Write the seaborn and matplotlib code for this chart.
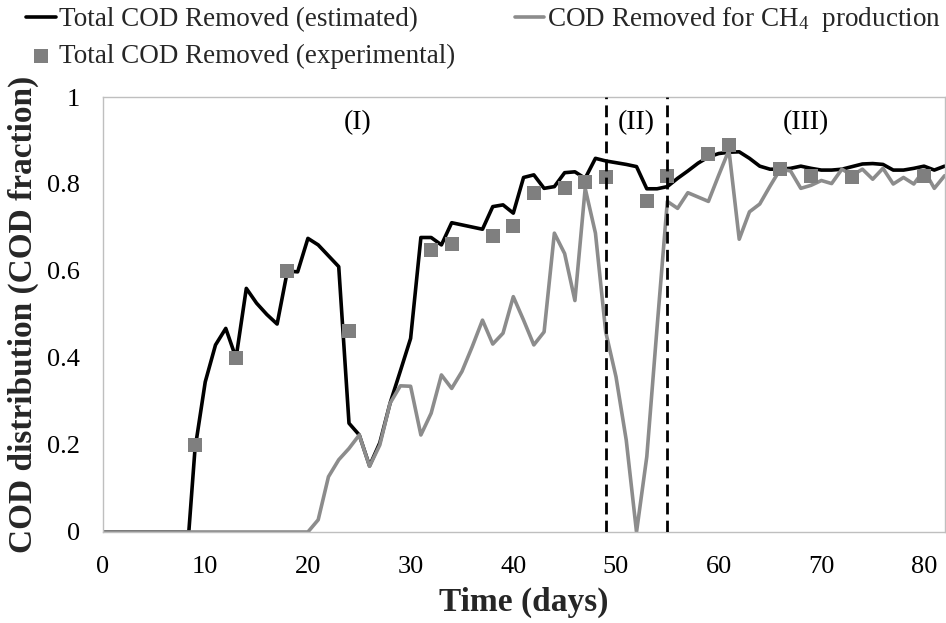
import matplotlib
matplotlib.use("Agg")
import matplotlib.pyplot as plt
import seaborn as sns
import pandas as pd

# ---------------- data ----------------
est_days = [0, 8.4, 9, 10, 11, 12, 13, 14, 15, 16, 17, 18, 19, 20, 21, 22, 23, 24, 25, 26,
            27, 28, 29, 30, 31, 32, 33, 34, 35, 36, 37, 38, 39, 40, 41, 42, 43, 44, 45, 46,
            47, 48, 49, 50, 51, 52, 53, 54, 55, 56, 57, 58, 59, 60, 61, 62, 63, 64, 65, 66,
            67, 68, 69, 70, 71, 72, 73, 74, 75, 76, 77, 78, 79, 80, 81, 82]
est_values = [0, 0, 0.19, 0.345, 0.43, 0.468, 0.40, 0.56, 0.526, 0.50, 0.478, 0.60, 0.598, 0.675,
              0.66, 0.635, 0.61, 0.25, 0.223, 0.152, 0.205, 0.296, 0.37, 0.445, 0.677, 0.677,
              0.66, 0.711, 0.706, 0.701, 0.696, 0.748, 0.752, 0.733, 0.815, 0.821, 0.79, 0.794,
              0.826, 0.828, 0.813, 0.859, 0.853, 0.849, 0.845, 0.84, 0.789, 0.789, 0.794, 0.813,
              0.83, 0.848, 0.862, 0.87, 0.873, 0.874, 0.859, 0.841, 0.834, 0.834, 0.836, 0.841,
              0.836, 0.832, 0.832, 0.834, 0.84, 0.846, 0.847, 0.845, 0.832, 0.832, 0.836, 0.841,
              0.832, 0.841]

ch4_days = [0, 20, 21, 22, 23, 24, 25, 26, 27, 28, 29, 30, 31, 32, 33, 34, 35, 36, 37, 38, 39,
            40, 41, 42, 43, 44, 45, 46, 47, 48, 49, 50, 51, 52, 53, 54, 55, 56, 57, 58, 59, 60,
            61, 62, 63, 64, 65, 66, 67, 68, 69, 70, 71, 72, 73, 74, 75, 76, 77, 78, 79, 80, 81, 82]
ch4_values = [0, 0, 0.028, 0.127, 0.166, 0.192, 0.223, 0.151, 0.2, 0.296, 0.336, 0.335, 0.223,
              0.273, 0.361, 0.33, 0.369, 0.426, 0.487, 0.432, 0.457, 0.541, 0.487, 0.43, 0.46,
              0.687, 0.64, 0.532, 0.79, 0.687, 0.46, 0.357, 0.211, 0.0, 0.173, 0.47, 0.76, 0.744,
              0.78, 0.77, 0.76, 0.82, 0.878, 0.673, 0.736, 0.754, 0.795, 0.834, 0.83, 0.79, 0.797,
              0.808, 0.801, 0.834, 0.82, 0.834, 0.811, 0.836, 0.80, 0.815, 0.80, 0.832, 0.79, 0.819]

exp_days = [9, 13, 18, 24, 32, 34, 38, 40, 42, 45, 47, 49, 53, 55, 59, 61, 66, 69, 73, 80]
exp_values = [0.2, 0.4, 0.6, 0.463, 0.648, 0.662, 0.681, 0.703, 0.78, 0.79, 0.804, 0.815, 0.761,
              0.818, 0.868, 0.89, 0.834, 0.818, 0.817, 0.819]

phase_bounds = [49, 55]
phase_labels = ["(I)", "(II)", "(III)"]
phase_label_x = [24.8, 52.0, 68.5]

x_ticks = [0, 10, 20, 30, 40, 50, 60, 70, 80]
y_ticks = [0, 0.2, 0.4, 0.6, 0.8, 1.0]
y_tick_labels = ["0", "0.2", "0.4", "0.6", "0.8", "1"]

lab_est = "Total COD Removed (estimated)"
lab_ch4 = "COD Removed for CH$_4$  production"
lab_exp = "Total COD Removed (experimental)"

# ---------------- style ----------------
sns.set_style("white")
plt.rcParams["font.family"] = ["Liberation Serif", "DejaVu Serif"]
plt.rcParams["mathtext.fontset"] = "custom"
plt.rcParams["mathtext.rm"] = "Liberation Serif"
plt.rcParams["mathtext.it"] = "Liberation Serif:italic"
plt.rcParams["lines.scale_dashes"] = False

df_est = pd.DataFrame({"day": est_days, "value": est_values})
df_ch4 = pd.DataFrame({"day": ch4_days, "value": ch4_values})
df_exp = pd.DataFrame({"day": exp_days, "value": exp_values})

fig = plt.figure(figsize=(9.46, 6.23), dpi=100)
ax = fig.add_axes([0.1084, 0.1461, 0.8901, 0.6982])

black = "#000000"
gray_line = "#8c8c8c"
gray_mark = "#7f7f7f"
frame = "#bfbfbf"

sns.lineplot(data=df_est, x="day", y="value", ax=ax, color=black, linewidth=2.6,
             label=lab_est, estimator=None, sort=False)
sns.lineplot(data=df_ch4, x="day", y="value", ax=ax, color=gray_line, linewidth=2.6,
             label=lab_ch4, estimator=None, sort=False)
sns.scatterplot(data=df_exp, x="day", y="value", ax=ax, color=gray_mark, marker="s",
                s=95, linewidth=0, label=lab_exp, zorder=5)

for xb in phase_bounds:
    ax.axvline(xb, color=black, linewidth=2.0, linestyle=(0, (8.5, 4.5)), zorder=6)

for lx, lt in zip(phase_label_x, phase_labels):
    ax.text(lx, 0.94, lt, ha="center", va="center", fontsize=20, color="#000000")

ax.set_xlim(0, 82)
ax.set_ylim(0, 1)
ax.set_xticks(x_ticks)
ax.set_xticklabels([str(t) for t in x_ticks])
ax.set_yticks(y_ticks)
ax.set_yticklabels(y_tick_labels)

for sp in ax.spines.values():
    sp.set_color(frame)
    sp.set_linewidth(1.0)
    sp.set_visible(True)

ax.tick_params(axis="both", which="major", direction="out", length=6, width=1.0,
               color=frame, labelsize=19, labelcolor="#000000")
ax.tick_params(axis="x", pad=11)
ax.tick_params(axis="y", pad=10)

ax.set_xlabel("Time (days)", fontsize=24, fontweight="bold")
ax.set_ylabel("COD distribution (COD fraction)", fontsize=24, fontweight="bold")
ax.xaxis.set_label_coords(0.5, -0.127)
ax.yaxis.set_label_coords(-0.075, 0.5)

handles, labels = ax.get_legend_handles_labels()
hmap = dict(zip(labels, handles))
ax.get_legend().remove()
fig.legend([hmap[lab_est], hmap[lab_exp], hmap[lab_ch4]], [lab_est, lab_exp, lab_ch4],
           ncol=2, loc="upper left", bbox_to_anchor=(0.028, 0.992), frameon=False,
           fontsize=19.5, handlelength=1.08, handletextpad=0.12, columnspacing=2.2,
           labelspacing=0.43, borderpad=0.0, borderaxespad=0.0)

fig.savefig("out.png", dpi=100)
